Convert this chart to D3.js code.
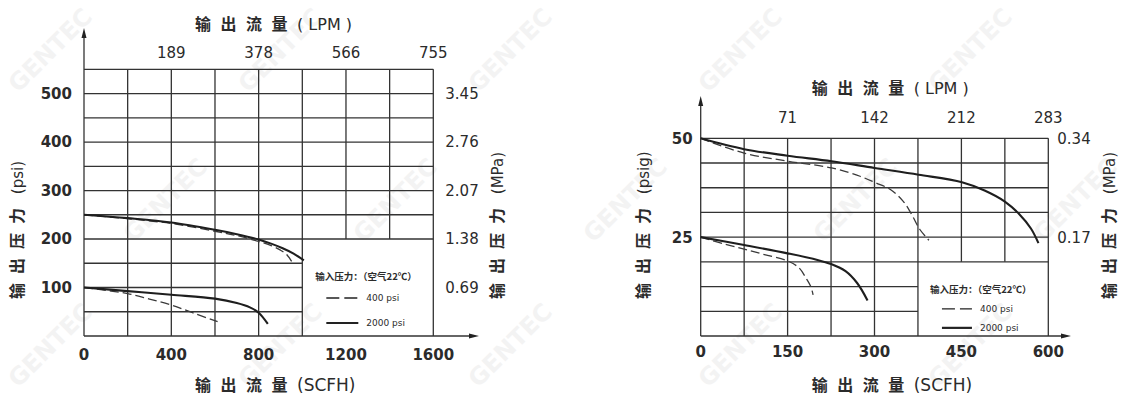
<!DOCTYPE html>
<html>
<head>
<meta charset="utf-8">
<script src="https://cdn.jsdelivr.net/npm/d3@7"></script>
<style>
  body { margin: 0; background: #fff; }
  svg { display: block; }
  .num { font-family: "DejaVu Sans", "Liberation Sans", sans-serif; fill: #2b2b2b; }
  .cjk { font-family: "Noto Sans CJK SC", sans-serif; fill: #2b2b2b; }
  .wm { font-family: "DejaVu Sans", sans-serif; font-weight: bold; fill: #000; opacity: 0.045; }
</style>
</head>
<body>
<svg id="chart" width="1124" height="396"></svg>
<script>
// ---- left chart: outlet up to 550 psi ----
var leftFlowTicks = [0, 400, 800, 1200, 1600];          // SCFH
var leftLpmAt = [400, 800, 1200, 1600];
var leftLpmLabels = ["189", "378", "566", "755"];
var leftPsiTicks = [100, 200, 300, 400, 500];
var leftMpaLabels = ["0.69", "1.38", "2.07", "2.76", "3.45"];

// inlet 2000 psi (solid) / 400 psi (dashed), set at 250 psi
var leftHiSolidX = [0, 200, 400, 600, 700, 800, 860, 910, 960, 1007];
var leftHiSolidY = [250, 243, 234, 219, 210, 199, 190, 181, 170, 156];
var leftHiDashX  = [0, 200, 400, 600, 700, 800, 860, 900, 928, 951];
var leftHiDashY  = [250, 242, 232, 216, 207, 195, 186, 177, 168, 154];
// set at 100 psi
var leftLoSolidX = [0, 200, 400, 600, 700, 760, 800, 842];
var leftLoSolidY = [100, 92.5, 85, 77, 68, 59, 48, 25];
var leftLoDashX  = [0, 100, 200, 300, 400, 500, 612];
var leftLoDashY  = [100, 94, 87.5, 76, 64, 47.5, 29.5];

// ---- right chart: outlet up to 50 psig ----
var rightFlowTicks = [0, 150, 300, 450, 600];
var rightLpmAt = [150, 300, 450, 600];
var rightLpmLabels = ["71", "142", "212", "283"];
var rightPsiTicks = [25, 50];
var rightMpaLabels = ["0.17", "0.34"];

var rightHiSolidX = [0, 75, 150, 226, 300, 376, 451, 490, 525, 550, 570, 583];
var rightHiSolidY = [50, 47.25, 45.6, 44.2, 42.5, 40.8, 38.9, 36.8, 34, 30.8, 27.2, 23.5];
var rightHiDashX  = [0, 75, 151, 226, 275, 302, 328, 350, 365, 378, 394];
var rightHiDashY  = [50, 46.25, 44.2, 42.5, 40.4, 38.75, 37, 34, 30.5, 27, 24.2];
var rightLoSolidX = [0, 75, 150, 200, 225, 250, 270, 288];
var rightLoSolidY = [25, 23, 20.9, 19.3, 18.2, 16.4, 13.4, 9];
var rightLoDashX  = [0, 40, 75, 110, 150, 170, 182, 190, 194];
var rightLoDashY  = [25, 23.3, 22, 20.6, 19, 17.2, 14.6, 12.5, 10.4];

var legendTitle = "输入压力：（空气22℃）";
var legendItems = ["400 psi", "2000 psi"];

var svg = d3.select("#chart");
var ink = "#333";

// faint GENTEC watermark, kept inside the frame
var wmRows = [[50, [50, 280, 510, 740, 970]], [200, [165, 395, 625, 855, 1075]], [345, [50, 280, 510, 740, 970]]];
wmRows.forEach(function(row) {
  row[1].forEach(function(cx) {
    svg.append("text").attr("class", "wm").attr("font-size", 24)
      .attr("text-anchor", "middle").attr("dy", "0.35em")
      .attr("transform", "translate(" + cx + "," + row[0] + ") rotate(-45)")
      .text("GENTEC");
  });
});

function drawChart(o) {
  var g = svg.append("g");
  var x = d3.scaleLinear().domain([0, o.xMax]).range([o.left, o.right]);
  var y = d3.scaleLinear().domain([0, o.yMax]).range([o.bottom, o.top]);

  // grid, leaving an empty box for the legend in the lower right
  d3.range(o.xStep, o.xMax + 0.01, o.xStep).forEach(function(v) {
    var inBox = v > o.legX && v < o.xMax - 0.01;
    g.append("line").attr("x1", x(v)).attr("x2", x(v))
      .attr("y1", y(o.yMax)).attr("y2", inBox ? y(o.legY) : y(0))
      .attr("stroke", ink).attr("stroke-width", 1.3);
  });
  d3.range(o.yStep, o.yMax + 0.01, o.yStep).forEach(function(v) {
    var inBox = v < o.legY - 0.01;
    g.append("line").attr("y1", y(v)).attr("y2", y(v))
      .attr("x1", x(0)).attr("x2", inBox ? x(o.legX) : x(o.xMax))
      .attr("stroke", ink).attr("stroke-width", 1.3);
  });

  // axes with arrow heads
  g.append("line").attr("x1", x(0)).attr("x2", x(0)).attr("y1", y(0)).attr("y2", o.arrowTop + 6)
    .attr("stroke", ink).attr("stroke-width", 1.3);
  g.append("path").attr("d", "M" + x(0) + "," + o.arrowTop + "l-2.5,10h5z").attr("fill", "#222");
  g.append("line").attr("x1", x(0)).attr("x2", o.arrowRight - 6).attr("y1", y(0)).attr("y2", y(0))
    .attr("stroke", ink).attr("stroke-width", 1.3);
  g.append("path").attr("d", "M" + o.arrowRight + "," + y(0) + "l-10,-2.5v5z").attr("fill", "#222");

  // tick labels
  g.selectAll(".lt").data(o.psiTicks).enter().append("text").attr("class", "num")
    .attr("x", x(0) - o.leftGap).attr("y", function(d) { return y(d); })
    .attr("dy", "0.36em").attr("text-anchor", "end")
    .attr("font-size", 15).attr("font-weight", "bold")
    .text(function(d) { return d; });
  g.selectAll(".rt").data(o.psiTicks).enter().append("text").attr("class", "num")
    .attr("x", x(o.xMax) + o.rightGap).attr("y", function(d) { return y(d); })
    .attr("dy", "0.36em").attr("font-size", 15)
    .text(function(d, i) { return o.mpaLabels[i]; });
  g.selectAll(".bt").data(o.flowTicks).enter().append("text").attr("class", "num")
    .attr("x", function(d) { return x(d); }).attr("y", o.bottom + o.bottomGap)
    .attr("dy", "0.36em").attr("text-anchor", "middle")
    .attr("font-size", 15).attr("font-weight", "bold")
    .text(function(d) { return d; });
  g.selectAll(".tt").data(o.lpmAt).enter().append("text").attr("class", "num")
    .attr("x", function(d) { return x(d); }).attr("y", o.top - o.topGap)
    .attr("dy", "0.36em").attr("text-anchor", "middle").attr("font-size", 15)
    .text(function(d, i) { return o.lpmLabels[i]; });

  // axis titles
  var t1 = g.append("text").attr("x", o.left + 111).attr("y", o.topTitleY).attr("dy", "0.36em");
  t1.append("tspan").attr("class", "cjk").attr("font-size", 16).attr("font-weight", 600)
    .attr("letter-spacing", 9.5).text("输出流量");
  t1.append("tspan").attr("class", "num").attr("font-size", 16).text("( LPM )");

  var t2 = g.append("text").attr("x", o.left + 111).attr("y", 385).attr("dy", "0.36em");
  t2.append("tspan").attr("class", "cjk").attr("font-size", 16).attr("font-weight", 600)
    .attr("letter-spacing", 9.5).text("输出流量");
  t2.append("tspan").attr("class", "num").attr("font-size", 17).text("(SCFH)");

  [[o.yTitleLX, o.yUnitL], [o.yTitleRX, "(MPa)"]].forEach(function(p) {
    var t = g.append("text")
      .attr("transform", "translate(" + p[0] + "," + o.yTitleBottom + ") rotate(-90)")
      .attr("dy", "0.36em");
    t.append("tspan").attr("class", "cjk").attr("font-size", 16).attr("font-weight", 600)
      .attr("letter-spacing", 9).text("输出压力");
    t.append("tspan").attr("class", "num").attr("font-size", 15).text(" " + p[1]);
  });

  // curves
  var line = d3.line().x(function(d) { return x(d[0]); }).y(function(d) { return y(d[1]); })
    .curve(d3.curveCatmullRom.alpha(0.5));
  o.series.forEach(function(s) {
    g.append("path").datum(d3.zip(s.xs, s.ys)).attr("d", line)
      .attr("fill", "none")
      .attr("stroke", s.dashed ? "#3a3a3a" : "#1e1e1e")
      .attr("stroke-width", s.dashed ? 1.3 : 2.1)
      .attr("stroke-dasharray", s.dashed ? "9,4" : null);
  });

  // legend inside the empty box
  var bx = x(o.legX), by = y(o.legY);
  g.append("text").attr("class", "cjk").attr("x", bx + o.lg.tx).attr("y", by + o.lg.ty)
    .attr("dy", "0.36em").attr("font-size", 9.5).attr("font-weight", "bold").text(legendTitle);
  legendItems.forEach(function(name, i) {
    var ly = by + o.lg.row[i];
    g.append("line").attr("x1", bx + 24).attr("x2", bx + 24 + o.lg.len)
      .attr("y1", ly).attr("y2", ly)
      .attr("stroke", "#222").attr("stroke-width", i ? 2.2 : 1.3)
      .attr("stroke-dasharray", i ? null : "13,5");
    g.append("text").attr("class", "num").attr("x", bx + o.lg.textX).attr("y", ly)
      .attr("dy", "0.36em").attr("font-size", 9).text(name);
  });
}

drawChart({
  left: 84, right: 433.3, top: 69.3, bottom: 336,
  xMax: 1600, yMax: 550, xStep: 200, yStep: 50, legX: 1000, legY: 200,
  arrowTop: 28, arrowRight: 479,
  flowTicks: leftFlowTicks, lpmAt: leftLpmAt, lpmLabels: leftLpmLabels,
  psiTicks: leftPsiTicks, mpaLabels: leftMpaLabels,
  leftGap: 12, rightGap: 12, bottomGap: 19, topGap: 17, topTitleY: 24,
  yTitleLX: 17, yTitleRX: 497, yTitleBottom: 299, yUnitL: "(psi)",
  lg: { tx: 13, ty: 38, row: [59, 84], len: 32, textX: 64 },
  series: [
    { xs: leftHiDashX, ys: leftHiDashY, dashed: true },
    { xs: leftLoDashX, ys: leftLoDashY, dashed: true },
    { xs: leftHiSolidX, ys: leftHiSolidY, dashed: false },
    { xs: leftLoSolidX, ys: leftLoSolidY, dashed: false }
  ]
});

drawChart({
  left: 700.7, right: 1048.3, top: 138.3, bottom: 336,
  xMax: 600, yMax: 50, xStep: 75, yStep: 6.25, legX: 375, legY: 18.75,
  arrowTop: 96, arrowRight: 1071,
  flowTicks: rightFlowTicks, lpmAt: rightLpmAt, lpmLabels: rightLpmLabels,
  psiTicks: rightPsiTicks, mpaLabels: rightMpaLabels,
  leftGap: 8, rightGap: 9, bottomGap: 16, topGap: 21, topTitleY: 88,
  yTitleLX: 643, yTitleRX: 1109, yTitleBottom: 299, yUnitL: "(psig)",
  lg: { tx: 12, ty: 28, row: [47, 66], len: 30, textX: 62 },
  series: [
    { xs: rightHiDashX, ys: rightHiDashY, dashed: true },
    { xs: rightLoDashX, ys: rightLoDashY, dashed: true },
    { xs: rightHiSolidX, ys: rightHiSolidY, dashed: false },
    { xs: rightLoSolidX, ys: rightLoSolidY, dashed: false }
  ]
});
</script>
</body>
</html>
